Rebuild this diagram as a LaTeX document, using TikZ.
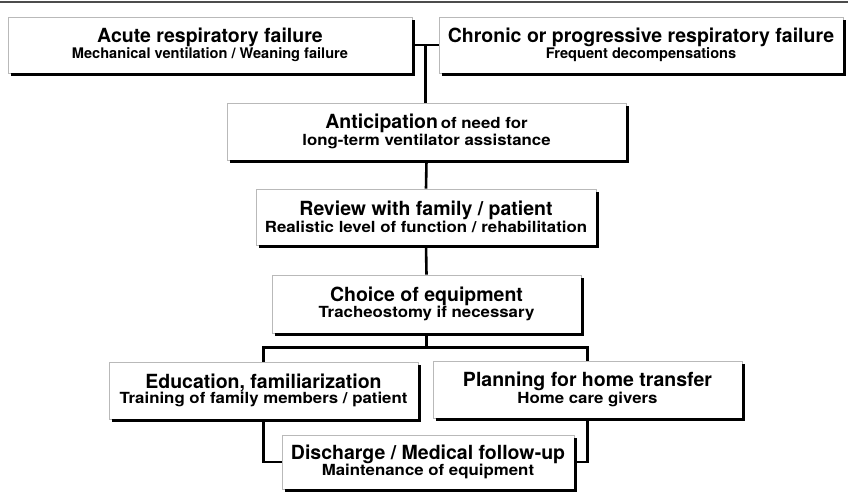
\documentclass[tikz,border=0pt]{standalone}
\usepackage{fontspec}
\setmainfont{TeX Gyre Heros}
\newfontfamily\subfam[FakeStretch=1.1]{TeX Gyre Heros}
\usetikzlibrary{calc}
\newcommand{\boxtitle}{\fontsize{19.5}{21}\selectfont\bfseries}
\newcommand{\boxsub}{\subfam\fontsize{15.3}{21}\selectfont\bfseries}
\newcommand{\topsub}{\fontsize{14.6}{21}\selectfont\bfseries}
\begin{document}
\begin{tikzpicture}[x=1pt,y=-1pt,
  box/.style={draw=gray!55, line width=0.6pt, fill=white, inner sep=0pt, align=center},
  boxshadow/.style={line width=2.7pt, black, line join=miter},
  conn/.style={line width=2.6pt, black, line join=miter},
  toprule/.style={line width=2.2pt, black!70}]
\useasboundingbox (0,0) rectangle (848,491);
\draw[toprule] (0,2) -- (848,2);

\node[box, minimum width=404pt, minimum height=56pt] (acute) at (210,45)
  {\boxtitle Acute respiratory failure\\ \topsub Mechanical ventilation / Weaning failure};
\node[box, minimum width=404pt, minimum height=56pt] (chronic) at (641,45)
  {\boxtitle Chronic or progressive respiratory failure\\ \topsub Frequent decompensations};
\node[box, minimum width=399pt, minimum height=57pt] (antic) at (426.5,131.5)
  {{\boxtitle Anticipation} {\boxsub of need for}\\ \boxsub long-term ventilator assistance};
\node[box, minimum width=340pt, minimum height=56pt] (review) at (426,217)
  {\boxtitle Review with family / patient\\ \boxsub Realistic level of function / rehabilitation};
\node[box, minimum width=309pt, minimum height=58pt] (choice) at (426.5,304)
  {\boxtitle Choice of equipment\\ \boxsub Tracheostomy if necessary};
\node[box, minimum width=309pt, minimum height=57pt] (educ) at (263.5,390.5)
  {\boxtitle Education, familiarization\\ \boxsub Training of family members / patient};
\node[box, minimum width=309pt, minimum height=57pt] (plan) at (587.5,389.5)
  {\boxtitle Planning for home transfer\\ \boxsub Home care givers};
\node[box, minimum width=292pt, minimum height=54pt] (disch) at (428,462)
  {\boxtitle Discharge / Medical follow-up\\ \boxsub Maintenance of equipment};

\foreach \n in {acute,chronic,antic,review,choice,educ,plan,disch}
  \draw[boxshadow] ($(\n.south west)+(3,1.3)$) -- ($(\n.south east)+(1.3,1.3)$) -- ($(\n.north east)+(1.3,3)$);

\coordinate (j) at ($(acute.east)!0.5!(chronic.west)$);
\draw[conn] (acute.east) -- (chronic.west);
\draw[conn] (j) -- (j |- antic.north);
\draw[conn] (antic.south) -- (review.north);
\draw[conn] (review.south) -- (choice.north);
\coordinate (b) at ($(choice.south)+(0,14)$);
\draw[conn] (choice.south) -- (b);
\draw[conn] (educ.north) |- (b) -| (plan.north);
\draw[conn] ([yshift=-1.3pt]educ.south) |- (disch.west);
\draw[conn] ([yshift=-1.3pt]plan.south) |- (disch.east);
\end{tikzpicture}
\end{document}
